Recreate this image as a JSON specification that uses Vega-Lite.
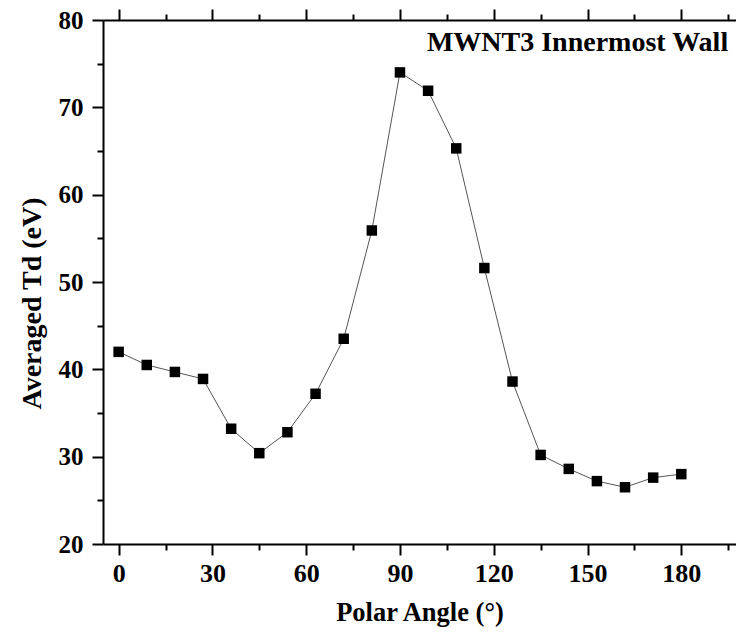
{
  "$schema": "https://vega.github.io/schema/vega-lite/v6.json",
  "autosize": {"type": "none"},
  "padding": {"left": 103, "top": 20, "right": 0, "bottom": 98},
  "width": 633,
  "height": 524,
  "background": "white",
  "config": {
    "view": {"stroke": null},
    "font": "Liberation Serif",
    "axis": {"domainColor": "black", "domainWidth": 2, "tickColor": "black", "tickWidth": 2, "labelFont": "Liberation Serif", "labelFontWeight": "bold", "labelFontSize": 26, "labelColor": "black", "titleFont": "Liberation Serif", "titleFontWeight": "bold", "titleFontSize": 28, "titleColor": "black", "grid": false}
  },
  "data": {"values": [
    {"angle": 0, "td": 42.0},
    {"angle": 9, "td": 40.5},
    {"angle": 18, "td": 39.7},
    {"angle": 27, "td": 38.9},
    {"angle": 36, "td": 33.2},
    {"angle": 45, "td": 30.4},
    {"angle": 54, "td": 32.8},
    {"angle": 63, "td": 37.2},
    {"angle": 72, "td": 43.5},
    {"angle": 81, "td": 55.9},
    {"angle": 90, "td": 74.0},
    {"angle": 99, "td": 71.9},
    {"angle": 108, "td": 65.3},
    {"angle": 117, "td": 51.6},
    {"angle": 126, "td": 38.6},
    {"angle": 135, "td": 30.2},
    {"angle": 144, "td": 28.6},
    {"angle": 153, "td": 27.2},
    {"angle": 162, "td": 26.5},
    {"angle": 171, "td": 27.6},
    {"angle": 180, "td": 28.0}
  ]},
  "layer": [
    {
      "mark": {"type": "line", "color": "#555555", "strokeWidth": 1},
      "encoding": {
        "x": {
          "field": "angle", "type": "quantitative",
          "scale": {"domain": [-5, 197.5], "nice": false, "zero": false},
          "axis": {
            "orient": "bottom",
            "title": "Polar Angle (°)",
            "values": [0, 15, 30, 45, 60, 75, 90, 105, 120, 135, 150, 165, 180, 195],
            "labelExpr": "datum.value % 30 === 0 ? datum.label : ''",
            "tickSize": {"condition": {"test": "datum.value % 30 === 0", "value": 11}, "value": 6},
            "labelFontSize": 26,
            "titleFontSize": 26.5,
            "labelPadding": 5,
            "titlePadding": 13
          }
        },
        "y": {
          "field": "td", "type": "quantitative",
          "scale": {"domain": [20, 80], "nice": false, "zero": false},
          "axis": {
            "orient": "left",
            "title": "Averaged Td (eV)",
            "values": [20, 25, 30, 35, 40, 45, 50, 55, 60, 65, 70, 75, 80],
            "labelExpr": "datum.value % 10 === 0 ? datum.label : ''",
            "tickSize": {"condition": {"test": "datum.value % 10 === 0", "value": 11}, "value": 6},
            "labelFontSize": 25,
            "labelPadding": 9,
            "titlePadding": 12,
            "titleY": 283
          }
        }
      }
    },
    {
      "mark": {"type": "point", "shape": "square", "filled": true, "color": "black", "size": 110, "opacity": 1},
      "encoding": {
        "x": {
          "field": "angle", "type": "quantitative",
          "axis": {
            "orient": "top", "title": null, "labels": false,
            "values": [0, 15, 30, 45, 60, 75, 90, 105, 120, 135, 150, 165, 180, 195],
            "tickSize": {"condition": {"test": "datum.value % 30 === 0", "value": 11}, "value": 6},
            "offset": 0
          }
        },
        "y": {"field": "td", "type": "quantitative", "axis": null}
      }
    },
    {
      "data": {"values": [{"label": "MWNT3 Innermost Wall", "angle": 195, "td": 77.4}]},
      "mark": {"type": "text", "align": "right", "baseline": "middle", "font": "Liberation Serif", "fontWeight": "bold", "fontSize": 28, "color": "black"},
      "encoding": {
        "x": {"field": "angle", "type": "quantitative", "axis": null},
        "y": {"field": "td", "type": "quantitative", "axis": null},
        "text": {"field": "label"}
      }
    }
  ],
  "resolve": {"axis": {"x": "independent", "y": "independent"}}
}
